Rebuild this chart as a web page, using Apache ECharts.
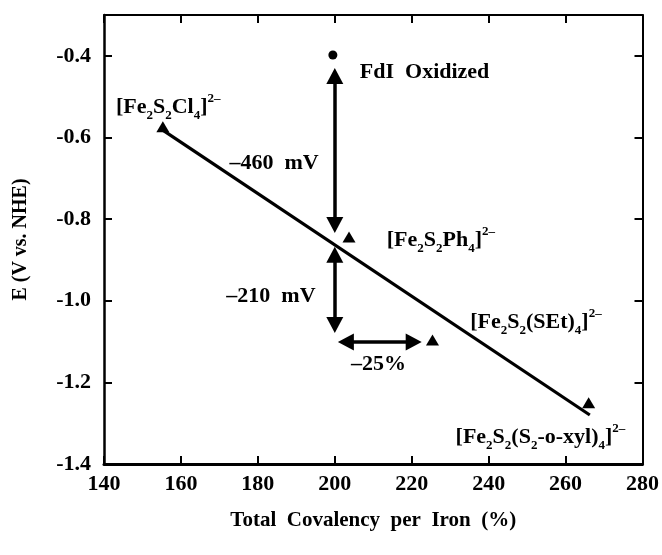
<!DOCTYPE html>
<html>
<head>
<meta charset="utf-8">
<script src="https://cdn.jsdelivr.net/npm/echarts@6/dist/echarts.min.js"></script>
<style>
  html, body { margin: 0; padding: 0; background: #fff; }
  #chart { width: 662px; height: 555px; }
</style>
</head>
<body>
<div id="chart"></div>
<script>
// Model [Fe2S2] complexes: total covalency per iron (%) vs. reduction potential (V vs. NHE)
const complexCovalency = [155.3, 203.7, 225.4, 266.0];
const complexPotential = [-0.574, -0.844, -1.096, -1.250];

// FdI oxidized protein site
const proteinCovalency = [199.5];
const proteinPotential = [-0.398];

// Linear fit through the model complexes (end points)
const fitCovalency = [154.5, 266.3];
const fitPotential = [-0.577, -1.280];

// Double-headed arrows: [x1, y1, x2, y2] in data units (arrow tips)
const arrowSpans = [
  [200, -0.430, 200, -0.834],
  [200, -0.868, 200, -1.079],
  [200.8, -1.101, 222.6, -1.101]
];

// Annotation texts with their left/middle anchor in data units
const noteText = [
  '{m|[Fe}{s|2}{m|S}{s|2}{m|Cl}{s|4}{m|]}{p|2–}',
  '{m|FdI  Oxidized}',
  '{m|–460  mV}',
  '{m|[Fe}{s|2}{m|S}{s|2}{m|Ph}{s|4}{m|]}{p|2–}',
  '{m|–210  mV}',
  '{m|[Fe}{s|2}{m|S}{s|2}{m|(SEt)}{s|4}{m|]}{p|2–}',
  '{m|–25%}',
  '{m|[Fe}{s|2}{m|S}{s|2}{m|(S}{s|2}{m|-o-xyl)}{s|4}{m|]}{p|2–}'
];
const noteX = [143.1, 206.5, 172.6, 213.5, 171.8, 235.2, 204.2, 231.4];
const noteY = [-0.525, -0.440, -0.663, -0.851, -0.988, -1.052, -1.157, -1.334];

const FONT = '"Liberation Serif", "Times New Roman", serif';
const INK = '#000';
const HEAD = 16; // arrow head length in px

const chart = echarts.init(document.getElementById('chart'), null, { renderer: 'canvas' });

const tickStyle = { show: true, inside: true, length: 8, lineStyle: { color: INK, width: 2 } };

const option = {
  backgroundColor: '#fff',
  animation: false,
  grid: { left: 104, right: 17, top: 15, bottom: 91, containLabel: false },
  xAxis: [
    {
      type: 'value', min: 140, max: 280, interval: 20, position: 'bottom',
      axisLine: { show: true, onZero: false, lineStyle: { color: INK, width: 3 } },
      axisTick: tickStyle,
      splitLine: { show: false },
      axisLabel: { color: INK, fontFamily: FONT, fontWeight: 'bold', fontSize: 22, margin: 9 },
      name: 'Total  Covalency  per  Iron  (%)',
      nameLocation: 'middle', nameGap: 46,
      nameTextStyle: { color: INK, fontFamily: FONT, fontWeight: 'bold', fontSize: 21 }
    },
    {
      type: 'value', min: 140, max: 280, interval: 20, position: 'top',
      axisLine: { show: true, onZero: false, lineStyle: { color: INK, width: 2 } },
      axisTick: tickStyle,
      axisLabel: { show: false },
      splitLine: { show: false }
    }
  ],
  yAxis: [
    {
      type: 'value', min: -1.4, max: -0.3, interval: 0.2, position: 'left',
      axisLine: { show: true, onZero: false, lineStyle: { color: INK, width: 2.5 } },
      axisTick: tickStyle,
      splitLine: { show: false },
      axisLabel: {
        color: INK, fontFamily: FONT, fontWeight: 'bold', fontSize: 22, margin: 13,
        showMaxLabel: false,
        formatter: v => v.toFixed(1)
      },
      name: 'E (V vs. NHE)',
      nameLocation: 'middle', nameGap: 73,
      nameTextStyle: { color: INK, fontFamily: FONT, fontWeight: 'bold', fontSize: 20 }
    },
    {
      type: 'value', min: -1.4, max: -0.3, interval: 0.2, position: 'right',
      axisLine: { show: true, onZero: false, lineStyle: { color: INK, width: 2 } },
      axisTick: tickStyle,
      axisLabel: { show: false },
      splitLine: { show: false }
    }
  ],
  series: [
    {
      name: 'fit', type: 'line', xAxisIndex: 0, yAxisIndex: 0,
      data: fitCovalency.map((x, i) => [x, fitPotential[i]]),
      symbol: 'none', silent: true,
      lineStyle: { color: INK, width: 3.2 },
      z: 2
    },
    {
      name: 'complexes', type: 'scatter',
      data: complexCovalency.map((x, i) => [x, complexPotential[i]]),
      symbol: 'triangle', symbolSize: [13, 11],
      itemStyle: { color: INK, opacity: 1 }, z: 3
    },
    {
      name: 'protein', type: 'scatter',
      data: proteinCovalency.map((x, i) => [x, proteinPotential[i]]),
      symbol: 'circle', symbolSize: 9,
      itemStyle: { color: INK, opacity: 1 }, z: 3
    },
    {
      name: 'arrows', type: 'line', data: [], symbol: 'none',
      markLine: {
        silent: true, animation: false,
        symbol: ['triangle', 'triangle'],
        symbolSize: [17, HEAD],
        label: { show: false },
        lineStyle: { color: INK, width: 3.5, type: 'solid', opacity: 1 },
        data: []
      },
      z: 4
    },
    {
      name: 'notes', type: 'scatter', silent: true,
      data: noteX.map((x, i) => [x, noteY[i]]),
      symbolSize: 0,
      itemStyle: { opacity: 1 },
      label: {
        show: true, position: 'right', distance: 0,
        formatter: p => noteText[p.dataIndex],
        color: INK, opacity: 1,
        rich: {
          m: { fontFamily: FONT, fontWeight: 'bold', fontSize: 22, color: INK, lineHeight: 30, verticalAlign: 'middle' },
          s: { fontFamily: FONT, fontWeight: 'bold', fontSize: 13, color: INK, lineHeight: 13, verticalAlign: 'bottom' },
          p: { fontFamily: FONT, fontWeight: 'bold', fontSize: 13, color: INK, lineHeight: 13, verticalAlign: 'top' }
        }
      },
      z: 5
    }
  ]
};

chart.setOption(option);

// Arrow heads are centred on the line ends, so pull each end back by half
// a head length so the tip lands on the given value.
const finder = { xAxisIndex: 0, yAxisIndex: 0 };
const arrowData = arrowSpans.map(a => {
  const p1 = chart.convertToPixel(finder, [a[0], a[1]]);
  const p2 = chart.convertToPixel(finder, [a[2], a[3]]);
  const len = Math.hypot(p2[0] - p1[0], p2[1] - p1[1]);
  const ux = (p2[0] - p1[0]) / len, uy = (p2[1] - p1[1]) / len;
  const h = HEAD / 2;
  const c1 = chart.convertFromPixel(finder, [p1[0] + ux * h, p1[1] + uy * h]);
  const c2 = chart.convertFromPixel(finder, [p2[0] - ux * h, p2[1] - uy * h]);
  return [{ coord: c1 }, { coord: c2 }];
});
chart.setOption({ series: [{}, {}, {}, { markLine: { data: arrowData } }, {}] });
</script>
</body>
</html>
